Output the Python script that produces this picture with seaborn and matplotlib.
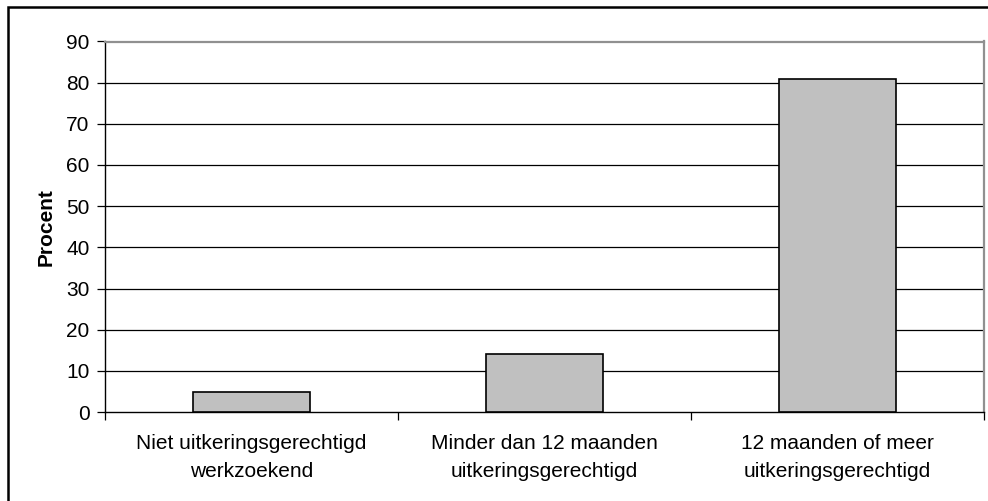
import pandas as pd
import matplotlib
matplotlib.use("Agg")
from matplotlib import pyplot as plt
from matplotlib.patches import Rectangle
import seaborn as sns

categories = [
    "Niet uitkeringsgerechtigd\nwerkzoekend",
    "Minder dan 12 maanden\nuitkeringsgerechtigd",
    "12 maanden of meer\nuitkeringsgerechtigd",
]
procent = [4.8, 14, 81]
y_ticks = [0, 10, 20, 30, 40, 50, 60, 70, 80, 90]


def main():
    sns.set_style("white")
    plt.rcParams['font.family'] = ['Liberation Sans', 'DejaVu Sans']
    for key in ['text.color', 'axes.labelcolor', 'xtick.color', 'ytick.color']:
        plt.rcParams[key] = 'black'

    df = pd.DataFrame({'categorie': categories, 'procent': procent})

    fig = plt.figure(figsize=(9.88, 5.01), dpi=100)
    ax = fig.add_axes([105 / 988, 1 - 412 / 501, 879 / 988, 370.5 / 501])

    # outer chart border
    fig.patches.append(Rectangle(
        (8 / 988, -0.1), 1.2, 1 - 7 / 501 + 0.1, transform=fig.transFigure,
        fill=False, edgecolor='black', linewidth=1.8, zorder=0
    ))

    sns.barplot(
        data=df, x='categorie', y='procent', color='#c0c0c0',
        edgecolor='black', linewidth=1.2, width=0.4, saturation=1, ax=ax,
        zorder=3
    )

    ax.set_ylim(0, 90)
    ax.set_yticks(y_ticks)
    ax.set_xlim(-0.5, 2.5)
    for y in y_ticks[1:-1]:
        ax.axhline(y, color='black', linewidth=0.9, zorder=1)

    # category ticks sit between the groups
    ax.set_xticks([-0.5, 0.5, 1.5, 2.5], minor=False)
    ax.set_xticklabels([])
    ax.set_xticks([0, 1, 2], minor=True)
    ax.set_xticklabels(categories, minor=True, fontsize=15, linespacing=1.6)
    ax.tick_params(axis='x', which='major', direction='out', length=6,
                   width=0.9, color='black', bottom=True)
    ax.tick_params(axis='x', which='minor', length=0, pad=16, bottom=True)
    ax.tick_params(axis='y', direction='out', length=6, width=0.9,
                   color='black', labelsize=15, pad=5, left=True)

    for side in ['left', 'bottom']:
        ax.spines[side].set_color('black')
        ax.spines[side].set_linewidth(1.0)
    for side in ['top', 'right']:
        ax.spines[side].set_color('#909090')
        ax.spines[side].set_linewidth(1.6)
        ax.spines[side].set_visible(True)

    ax.set_xlabel('')
    ax.set_ylabel('Procent', fontsize=15, fontweight='bold', labelpad=8)

    fig.savefig('out.png', dpi=100)
    plt.close(fig)


if __name__ == "__main__":
    main()
